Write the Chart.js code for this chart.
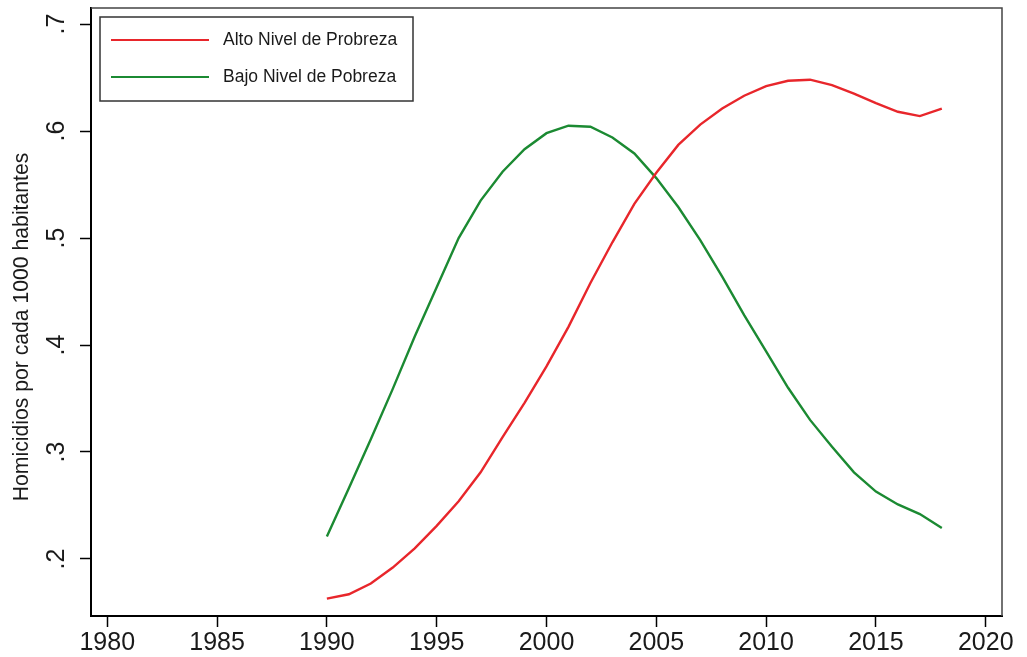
<!DOCTYPE html>
<html>
<head>
<meta charset="utf-8">
<script src="https://cdn.jsdelivr.net/npm/chart.js@4.4.1/dist/chart.umd.min.js"></script>
<style>
  html, body { margin: 0; padding: 0; background: #ffffff; }
  canvas { display: block; }
</style>
</head>
<body>
<canvas id="c" width="1027" height="657"></canvas>
<script>
const years = [1990,1991,1992,1993,1994,1995,1996,1997,1998,1999,2000,2001,2002,2003,2004,2005,2006,2007,2008,2009,2010,2011,2012,2013,2014,2015,2016,2017,2018];
const altoNivel = [0.163,0.167,0.177,0.192,0.210,0.231,0.254,0.281,0.314,0.346,0.380,0.417,0.458,0.496,0.532,0.561,0.587,0.606,0.621,0.633,0.642,0.647,0.648,0.643,0.635,0.626,0.618,0.614,0.621];
const bajoNivel = [0.221,0.266,0.312,0.359,0.408,0.454,0.500,0.535,0.562,0.583,0.598,0.605,0.604,0.594,0.579,0.556,0.529,0.498,0.464,0.428,0.394,0.360,0.330,0.305,0.281,0.263,0.251,0.242,0.229];
const seriesNames = ['Alto Nivel de Probreza', 'Bajo Nivel de Pobreza'];
const seriesColors = ['#e8262b', '#1b8a32'];
const xTickValues = [1980,1985,1990,1995,2000,2005,2010,2015,2020];
const yTickValues = [0.2,0.3,0.4,0.5,0.6,0.7];
const yTickLabels = ['.2','.3','.4','.5','.6','.7'];
const yTitle = 'Homicidios por cada 1000 habitantes';

const FONT = '"Liberation Sans", Arial, Helvetica, sans-serif';

const framePlugin = {
  id: 'frame',
  afterDatasetsDraw(chart) {
    const {ctx, chartArea: a} = chart;
    ctx.save();
    ctx.strokeStyle = '#444444';
    ctx.lineWidth = 1.5;
    ctx.beginPath();
    ctx.moveTo(a.left, a.top);
    ctx.lineTo(a.right, a.top);
    ctx.lineTo(a.right, a.bottom);
    ctx.stroke();
    ctx.restore();
  }
};

const legendPlugin = {
  id: 'boxLegend',
  afterDatasetsDraw(chart) {
    const {ctx, chartArea: a} = chart;
    const left = a.left + 9, top = a.top + 9, w = 313, h = 84;
    ctx.save();
    ctx.fillStyle = '#ffffff';
    ctx.fillRect(left, top, w, h);
    ctx.strokeStyle = '#333333';
    ctx.lineWidth = 1.5;
    ctx.strokeRect(left, top, w, h);
    ctx.font = '17.5px ' + FONT;
    ctx.textBaseline = 'middle';
    ctx.textAlign = 'left';
    chart.data.datasets.forEach((ds, i) => {
      const y = top + 23 + i * 37;
      ctx.strokeStyle = ds.borderColor;
      ctx.lineWidth = 2.2;
      ctx.beginPath();
      ctx.moveTo(left + 11, y);
      ctx.lineTo(left + 109, y);
      ctx.stroke();
      ctx.fillStyle = '#1a1a1a';
      ctx.fillText(ds.label, left + 123, y);
    });
    ctx.restore();
  }
};

const yTitlePlugin = {
  id: 'yTitle',
  afterDraw(chart) {
    const {ctx, chartArea: a} = chart;
    ctx.save();
    ctx.translate(22, (a.top + a.bottom) / 2 + 15);
    ctx.rotate(-Math.PI / 2);
    ctx.font = '21.2px ' + FONT;
    ctx.fillStyle = '#1a1a1a';
    ctx.textAlign = 'center';
    ctx.textBaseline = 'middle';
    ctx.fillText(yTitle, 0, 0);
    ctx.restore();
  }
};

new Chart(document.getElementById('c'), {
  type: 'line',
  data: {
    datasets: [
      { label: seriesNames[0], data: years.map((yr, i) => ({x: yr, y: altoNivel[i]})), borderColor: seriesColors[0], borderWidth: 2.4, pointRadius: 0, tension: 0, fill: false },
      { label: seriesNames[1], data: years.map((yr, i) => ({x: yr, y: bajoNivel[i]})), borderColor: seriesColors[1], borderWidth: 2.4, pointRadius: 0, tension: 0, fill: false }
    ]
  },
  options: {
    responsive: false,
    animation: false,
    layout: { padding: { left: 0, top: 8, right: 25, bottom: 0 } },
    plugins: { legend: { display: false }, tooltip: { enabled: false } },
    scales: {
      x: {
        type: 'linear',
        min: 1979.26,
        max: 2020.74,
        afterBuildTicks(scale) { scale.ticks = xTickValues.map(v => ({value: v})); },
        afterFit(scale) { scale.height = 41; scale.paddingLeft = 0; scale.paddingRight = 0; },
        border: { display: true, color: '#000000', width: 2 },
        grid: { display: true, drawOnChartArea: false, drawTicks: true, tickLength: 11, tickColor: '#000000', tickWidth: 1.5 },
        ticks: { color: '#1a1a1a', font: { family: FONT, size: 25 }, padding: 1, maxRotation: 0, minRotation: 0, autoSkip: false, callback: v => String(v) }
      },
      y: {
        type: 'linear',
        min: 0.1467,
        max: 0.715,
        afterBuildTicks(scale) { scale.ticks = yTickValues.map(v => ({value: v})); },
        afterFit(scale) { scale.width = 91; scale.paddingTop = 0; scale.paddingBottom = 0; },
        border: { display: true, color: '#000000', width: 2 },
        grid: { display: true, drawOnChartArea: false, drawTicks: true, tickLength: 11, tickColor: '#000000', tickWidth: 1.5 },
        ticks: {
          color: '#1a1a1a', font: { family: FONT, size: 25 }, padding: 12,
          minRotation: 90, maxRotation: 90, crossAlign: 'center', autoSkip: false,
          callback: v => { const k = yTickValues.findIndex(t => Math.abs(t - v) < 1e-9); return k >= 0 ? yTickLabels[k] : ''; }
        }
      }
    }
  },
  plugins: [framePlugin, legendPlugin, yTitlePlugin]
});
</script>
</body>
</html>
